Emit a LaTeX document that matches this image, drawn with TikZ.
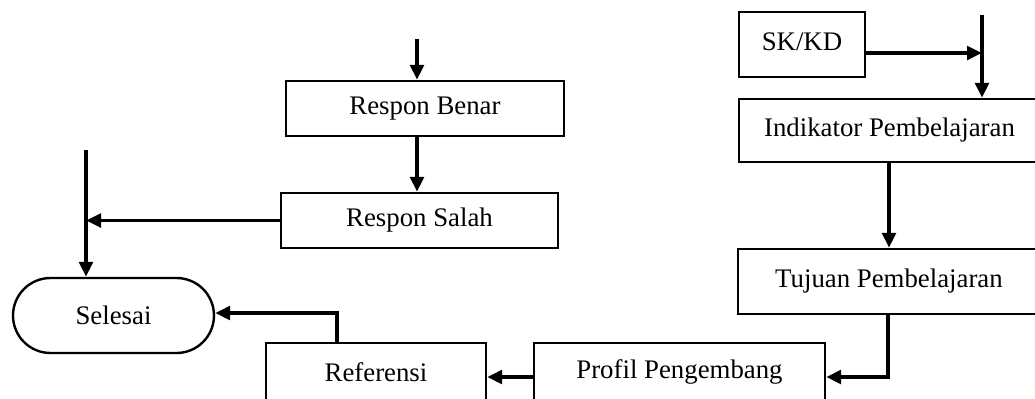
\documentclass[tikz,border=0pt]{standalone}
\usepackage{fontspec}
\setmainfont{Liberation Serif}
\usetikzlibrary{arrows.meta}
\begin{document}
\begin{tikzpicture}[x=0.5pt,y=-0.5pt,
  box/.style={draw,line width=1.2pt,inner sep=0pt,anchor=center,font=\fontsize{13.4}{16}\selectfont},
  arr/.style={line width=1.8pt,-{Triangle[length=7.5pt,width=6.8pt]}},
  ln/.style={line width=1.8pt}]
\useasboundingbox (0,0) rectangle (1035,398);
\clip (0,0) rectangle (1035,398);
\node[box,minimum width=139pt,minimum height=27.5pt] (benar) at (425,108.5) {Respon Benar};
\node[box,minimum width=138.5pt,minimum height=27.5pt] (salah) at (419.5,220.5) {Respon Salah};
\node[box,minimum width=100.5pt,minimum height=37.5pt,rounded corners=18.75pt] (selesai) at (113.5,315.5) {Selesai};
\node[box,minimum width=110pt,minimum height=29pt] (referensi) at (376,372) {Referensi};
\node[box,minimum width=145.5pt,minimum height=29pt] (profil) at (679.5,372) {Profil Pengembang};
\node[box,minimum width=63pt,minimum height=32.5pt] (skkd) at (802,44.5) {\raisebox{2.5pt}{SK/KD}};
\node[box,minimum width=150.5pt,minimum height=31.5pt] (indikator) at (889.5,130.5) {Indikator Pembelajaran};
\node[box,minimum width=151pt,minimum height=32.5pt] (tujuan) at (889,281.5) {Tujuan Pembelajaran};
% connectors
\coordinate (t1) at (417,39);
\draw[arr] (t1) -- (t1 |- benar.north);
\draw[arr] (benar.south -| t1) -- (salah.north -| t1);
\coordinate (t2) at (86,150);
\draw[arr] (t2) -- (t2 |- selesai.north);
\draw[arr] (salah.west) -- (salah.west -| t2);
\coordinate (r1) at (337,313);
\draw[arr] (referensi.north -| r1) -- (r1) -- (r1 -| selesai.east);
\coordinate (p1) at (0,377);
\draw[arr] (profil.west |- p1) -- (referensi.east |- p1);
\coordinate (u1) at (888,377);
\draw[arr] (tujuan.south -| u1) -- (u1) -- (profil.east |- u1);
\coordinate (i1) at (889,0);
\draw[arr] (indikator.south -| i1) -- (tujuan.north -| i1);
\coordinate (k1) at (982,15);
\draw[arr] (k1) -- (k1 |- indikator.north);
\coordinate (k2) at (982,53);
\draw[arr] (skkd.east |- k2) -- (k2);
\end{tikzpicture}
\end{document}
